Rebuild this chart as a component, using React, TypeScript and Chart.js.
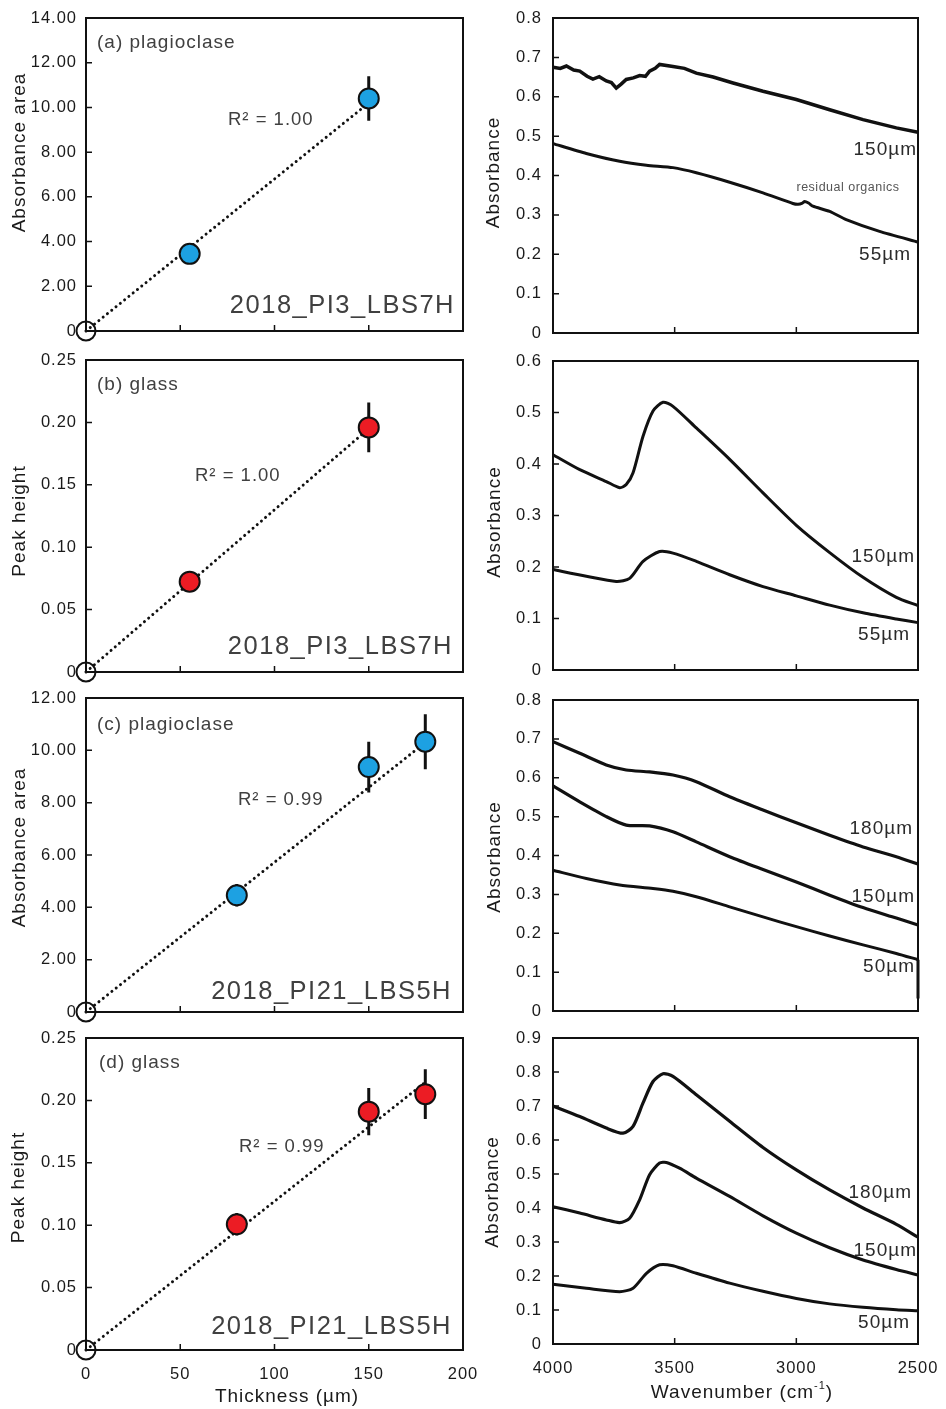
import React, { useEffect, useRef } from 'react';
import { Chart, registerables } from 'chart.js';
Chart.register(...registerables);

const FAMILY = '"Liberation Sans", Arial, Helvetica, sans-serif';
const BLUE = '#1DA1E2';
const RED = '#EC1C24';
const INK = '#111111';

// ---------- left column data (thickness vs absorbance) ----------
const thickTicksStep = 50;
const plagA_thick = [55, 150];
const plagA_area = [3.45, 10.4];
const plagA_err = [0.1, 1.0];
const plagA_fitX = [0, 150];
const plagA_fitY = [0, 10.2];

const glassB_thick = [55, 150];
const glassB_peak = [0.0724, 0.196];
const glassB_err = [0.003, 0.02];
const glassB_fitX = [0, 150];
const glassB_fitY = [0, 0.195];

const plagC_thick = [80, 150, 180];
const plagC_area = [4.46, 9.36, 10.33];
const plagC_err = [0.43, 0.97, 1.05];
const plagC_fitX = [0, 180];
const plagC_fitY = [0, 10.3];

const glassD_thick = [80, 150, 180];
const glassD_peak = [0.1007, 0.191, 0.205];
const glassD_err = [0.009, 0.019, 0.02];
const glassD_fitX = [0, 180];
const glassD_fitY = [0, 0.2145];

const originX = [0];
const originY = [0];

// ---------- right column data (spectra) ----------
const wnA150 = [4000, 3970, 3945, 3915, 3890, 3860, 3836, 3810, 3781, 3760, 3740, 3720, 3699, 3670, 3644, 3620, 3603, 3580, 3562, 3507, 3460, 3411, 3342, 3260, 3137, 3000, 2863, 2726, 2589, 2500];
const absA150 = [0.675, 0.672, 0.678, 0.668, 0.665, 0.652, 0.645, 0.651, 0.640, 0.636, 0.622, 0.632, 0.644, 0.648, 0.654, 0.652, 0.665, 0.672, 0.682, 0.677, 0.672, 0.660, 0.650, 0.635, 0.614, 0.593, 0.567, 0.542, 0.521, 0.510];
const wnA55 = [4000, 3863, 3726, 3616, 3507, 3411, 3274, 3137, 3014, 2993, 2975, 2966, 2950, 2932, 2863, 2795, 2658, 2500];
const absA55 = [0.481, 0.456, 0.436, 0.426, 0.420, 0.407, 0.383, 0.356, 0.329, 0.327, 0.330, 0.334, 0.330, 0.322, 0.309, 0.288, 0.258, 0.231];

const wnB150 = [4000, 3890, 3781, 3726, 3699, 3671, 3630, 3589, 3548, 3507, 3411, 3274, 3137, 3000, 2863, 2726, 2589, 2500];
const absB150 = [0.418, 0.389, 0.366, 0.354, 0.360, 0.383, 0.454, 0.503, 0.520, 0.512, 0.470, 0.409, 0.344, 0.281, 0.228, 0.180, 0.141, 0.125];
const wnB55 = [4000, 3863, 3740, 3685, 3630, 3562, 3507, 3411, 3274, 3137, 3000, 2863, 2726, 2589, 2500];
const absB55 = [0.195, 0.182, 0.172, 0.178, 0.211, 0.230, 0.227, 0.211, 0.185, 0.162, 0.144, 0.126, 0.111, 0.099, 0.092];

const wnC = [4000, 3890, 3781, 3699, 3603, 3507, 3411, 3274, 3137, 3000, 2863, 2726, 2589, 2500];
const absC180 = [0.693, 0.663, 0.633, 0.620, 0.615, 0.607, 0.590, 0.551, 0.517, 0.484, 0.452, 0.422, 0.397, 0.378];
const absC150 = [0.579, 0.538, 0.500, 0.478, 0.476, 0.461, 0.435, 0.397, 0.364, 0.332, 0.298, 0.266, 0.239, 0.221];
const wnC50 = [4000, 3863, 3726, 3589, 3507, 3411, 3274, 3137, 3000, 2863, 2726, 2589, 2500];
const absC50 = [0.362, 0.341, 0.324, 0.315, 0.308, 0.294, 0.268, 0.242, 0.217, 0.193, 0.170, 0.148, 0.132];
const wnC50Tail = [2500, 2500];
const absC50Tail = [0.132, 0.032];

const wnD180 = [4000, 3890, 3781, 3712, 3671, 3630, 3589, 3548, 3507, 3411, 3274, 3137, 3000, 2863, 2726, 2589, 2500];
const absD180 = [0.700, 0.669, 0.635, 0.620, 0.640, 0.709, 0.772, 0.795, 0.787, 0.733, 0.655, 0.578, 0.512, 0.453, 0.400, 0.352, 0.314];
const wnD150 = [4000, 3890, 3781, 3726, 3685, 3644, 3603, 3562, 3534, 3480, 3411, 3274, 3137, 3000, 2863, 2726, 2589, 2500];
const absD150 = [0.404, 0.385, 0.365, 0.357, 0.370, 0.424, 0.498, 0.532, 0.534, 0.517, 0.488, 0.434, 0.377, 0.326, 0.283, 0.247, 0.219, 0.203];
const wnD50 = [4000, 3863, 3726, 3671, 3616, 3562, 3507, 3411, 3274, 3137, 3000, 2863, 2726, 2589, 2500];
const absD50 = [0.176, 0.164, 0.154, 0.164, 0.208, 0.233, 0.230, 0.208, 0.179, 0.155, 0.134, 0.118, 0.108, 0.101, 0.098];

// ---------- helpers ----------
const pts = (xs: number[], ys: number[]) => xs.map((x, i) => ({ x, y: ys[i] }));

type Seg = { t: string; size: number; dy?: number };
type Txt = { segs: Seg[]; x: number; y: number; align?: 'left' | 'center' | 'right'; rot?: boolean; color?: string; sp?: number };
const T = (t: string, x: number, y: number, size: number, o: Partial<Txt> = {}): Txt => ({ segs: [{ t, size }], x, y, ...o });

function markerSets(xs: number[], ys: number[], color: string, fx: number[], fy: number[]) {
  return [
    { data: pts(xs, ys), pointRadius: 10, pointBackgroundColor: color, pointBorderColor: INK, pointBorderWidth: 2, showLine: false, clip: false },
    { data: pts(originX, originY), pointRadius: 9.5, pointBackgroundColor: 'rgba(0,0,0,0)', pointBorderColor: INK, pointBorderWidth: 2, showLine: false, clip: false },
    { data: pts(fx, fy), showLine: true, pointRadius: 0, borderColor: INK, borderWidth: 3, borderDash: [0.01, 5.5], borderCapStyle: 'round', clip: false },
  ];
}

function spec(xs: number[], ys: number[], width = 3, tension = 0.25) {
  return { data: pts(xs, ys), showLine: true, pointRadius: 0, borderColor: INK, borderWidth: width, tension, clip: false };
}

interface PanelSpec {
  key: string;
  canvas: [number, number, number, number];
  area: [number, number, number, number];
  left: boolean;
  showX: boolean;
  yMax: number;
  yStep: number;
  yFmt: (v: number) => string;
  datasets: any[];
  errors?: { xs: number[]; ys: number[]; es: number[] };
  texts: Txt[];
}

const fmt2 = (v: number) => (Math.abs(v) < 1e-9 ? '0' : v.toFixed(2));
const fmt1 = (v: number) => (Math.abs(v) < 1e-9 ? '0' : v.toFixed(1));

const GRAY = '#404040';
const LAB = '#2a2a2a';

const panels: PanelSpec[] = [
  {
    key: 'la', canvas: [0, 0, 490, 345], area: [86, 18, 463, 331], left: true, showX: false, yMax: 14, yStep: 2, yFmt: fmt2,
    datasets: markerSets(plagA_thick, plagA_area, BLUE, plagA_fitX, plagA_fitY),
    errors: { xs: plagA_thick, ys: plagA_area, es: plagA_err },
    texts: [
      T('(a) plagioclase', 97, 43, 19, { color: GRAY }),
      T('R² = 1.00', 228, 120, 18.5, { color: GRAY }),
      T('2018_PI3_LBS7H', 455, 306, 25.5, { color: GRAY, align: 'right', sp: 1.5 }),
      T('Absorbance area', 20, 152.5, 19, { rot: true, align: 'center' }),
    ],
  },
  {
    key: 'lb', canvas: [0, 345, 490, 340], area: [86, 360, 463, 672], left: true, showX: false, yMax: 0.25, yStep: 0.05, yFmt: fmt2,
    datasets: markerSets(glassB_thick, glassB_peak, RED, glassB_fitX, glassB_fitY),
    errors: { xs: glassB_thick, ys: glassB_peak, es: glassB_err },
    texts: [
      T('(b) glass', 97, 385, 19, { color: GRAY }),
      T('R² = 1.00', 195, 476, 18.5, { color: GRAY }),
      T('2018_PI3_LBS7H', 453, 647, 25.5, { color: GRAY, align: 'right', sp: 1.5 }),
      T('Peak height', 20, 521, 19, { rot: true, align: 'center' }),
    ],
  },
  {
    key: 'lc', canvas: [0, 685, 490, 340], area: [86, 698, 463, 1012], left: true, showX: false, yMax: 12, yStep: 2, yFmt: fmt2,
    datasets: markerSets(plagC_thick, plagC_area, BLUE, plagC_fitX, plagC_fitY),
    errors: { xs: plagC_thick, ys: plagC_area, es: plagC_err },
    texts: [
      T('(c) plagioclase', 97, 725, 19, { color: GRAY }),
      T('R² = 0.99', 238, 800, 18.5, { color: GRAY }),
      T('2018_PI21_LBS5H', 452, 992, 25.5, { color: GRAY, align: 'right', sp: 1.5 }),
      T('Absorbance area', 20, 847.5, 19, { rot: true, align: 'center' }),
    ],
  },
  {
    key: 'ld', canvas: [0, 1025, 490, 384], area: [86, 1038, 463, 1350], left: true, showX: true, yMax: 0.25, yStep: 0.05, yFmt: fmt2,
    datasets: markerSets(glassD_thick, glassD_peak, RED, glassD_fitX, glassD_fitY),
    errors: { xs: glassD_thick, ys: glassD_peak, es: glassD_err },
    texts: [
      T('(d) glass', 99, 1063, 19, { color: GRAY }),
      T('R² = 0.99', 239, 1147, 18.5, { color: GRAY }),
      T('2018_PI21_LBS5H', 452, 1327, 25.5, { color: GRAY, align: 'right', sp: 1.5 }),
      T('Peak height', 18.5, 1187.5, 19, { rot: true, align: 'center' }),
      T('Thickness (µm)', 287, 1397, 19, { align: 'center' }),
    ],
  },
  {
    key: 'ra', canvas: [480, 0, 466, 345], area: [553, 18, 918, 333], left: false, showX: false, yMax: 0.8, yStep: 0.1, yFmt: fmt1,
    datasets: [spec(wnA150, absA150, 3.5, 0), spec(wnA55, absA55, 3, 0.2)],
    texts: [
      T('150µm', 917, 150, 19, { align: 'right', color: LAB }),
      T('55µm', 911, 255, 19, { align: 'right', color: LAB }),
      T('residual organics', 848, 188, 12.5, { align: 'center', color: '#555', sp: 0.5 }),
      T('Absorbance', 494, 172.5, 19, { rot: true, align: 'center' }),
    ],
  },
  {
    key: 'rb', canvas: [480, 345, 466, 340], area: [553, 361, 918, 670], left: false, showX: false, yMax: 0.6, yStep: 0.1, yFmt: fmt1,
    datasets: [spec(wnB150, absB150), spec(wnB55, absB55)],
    texts: [
      T('150µm', 915, 557, 19, { align: 'right', color: LAB }),
      T('55µm', 910, 635, 19, { align: 'right', color: LAB }),
      T('Absorbance', 495, 522, 19, { rot: true, align: 'center' }),
    ],
  },
  {
    key: 'rc', canvas: [480, 685, 466, 340], area: [553, 700, 918, 1011], left: false, showX: false, yMax: 0.8, yStep: 0.1, yFmt: fmt1,
    datasets: [spec(wnC, absC180, 3.2), spec(wnC, absC150, 3.2), spec(wnC50, absC50), spec(wnC50Tail, absC50Tail, 3, 0)],
    texts: [
      T('180µm', 913, 829, 19, { align: 'right', color: LAB }),
      T('150µm', 915, 897, 19, { align: 'right', color: LAB }),
      T('50µm', 915, 967, 19, { align: 'right', color: LAB }),
      T('Absorbance', 495, 857, 19, { rot: true, align: 'center' }),
    ],
  },
  {
    key: 'rd', canvas: [480, 1025, 466, 384], area: [553, 1038, 918, 1344], left: false, showX: true, yMax: 0.9, yStep: 0.1, yFmt: fmt1,
    datasets: [spec(wnD180, absD180, 3.2), spec(wnD150, absD150, 3.1), spec(wnD50, absD50)],
    texts: [
      T('180µm', 912, 1193, 19, { align: 'right', color: LAB }),
      T('150µm', 917, 1251, 19, { align: 'right', color: LAB }),
      T('50µm', 910, 1323, 19, { align: 'right', color: LAB }),
      T('Absorbance', 493, 1192, 19, { rot: true, align: 'center' }),
      { segs: [{ t: 'Wavenumber (cm', size: 19 }, { t: '-1', size: 11, dy: -7 }, { t: ')', size: 19 }], x: 742, y: 1393, align: 'center' },
    ],
  },
];

function Panel({ p }: { p: PanelSpec }) {
  const ref = useRef<HTMLCanvasElement>(null);
  const [cx, cy, cw, ch] = p.canvas;
  useEffect(() => {
    const [l, t, r, b] = p.area;
    const yW = l - cx;
    const xH = cy + ch - b;
    const plugin = {
      id: 'deco_' + p.key,
      beforeDraw(chart: any) {
        chart.ctx.letterSpacing = '1px';
      },
      beforeDatasetsDraw(chart: any) {
        const { ctx, chartArea: a, scales } = chart;
        const sx = scales.x;
        const sy = scales.y;
        ctx.save();
        ctx.strokeStyle = INK;
        ctx.lineWidth = 2;
        ctx.strokeRect(a.left, a.top, a.right - a.left, a.bottom - a.top);
        ctx.lineWidth = 1.5;
        ctx.beginPath();
        for (const tk of sx.ticks) {
          if (tk.value <= sx.min + 1e-9 || tk.value >= sx.max - 1e-9) continue;
          const px = sx.getPixelForValue(tk.value);
          ctx.moveTo(px, a.bottom);
          ctx.lineTo(px, a.bottom - 6);
        }
        for (const tk of sy.ticks) {
          if (tk.value <= sy.min + 1e-9 || tk.value >= sy.max - 1e-9) continue;
          const py = sy.getPixelForValue(tk.value);
          ctx.moveTo(a.left, py);
          ctx.lineTo(a.left + 6, py);
        }
        ctx.stroke();
        if (p.errors) {
          ctx.lineWidth = 3;
          ctx.beginPath();
          p.errors.xs.forEach((x, i) => {
            const px = sx.getPixelForValue(x);
            ctx.moveTo(px, sy.getPixelForValue(p.errors!.ys[i] + p.errors!.es[i]));
            ctx.lineTo(px, sy.getPixelForValue(p.errors!.ys[i] - p.errors!.es[i]));
          });
          ctx.stroke();
        }
        ctx.restore();
      },
      afterDraw(chart: any) {
        const ctx = chart.ctx as CanvasRenderingContext2D;
        for (const tx of p.texts) {
          ctx.save();
          (ctx as any).letterSpacing = (tx.sp ?? 1) + 'px';
          ctx.fillStyle = tx.color || '#1a1a1a';
          ctx.textBaseline = 'middle';
          ctx.textAlign = 'left';
          ctx.translate(tx.x - cx, tx.y - cy);
          if (tx.rot) ctx.rotate(-Math.PI / 2);
          let w = 0;
          for (const s of tx.segs) {
            ctx.font = `${s.size}px ${FAMILY}`;
            w += ctx.measureText(s.t).width;
          }
          let cur = tx.align === 'center' ? -w / 2 : tx.align === 'right' ? -w : 0;
          for (const s of tx.segs) {
            ctx.font = `${s.size}px ${FAMILY}`;
            ctx.fillText(s.t, cur, s.dy || 0);
            cur += ctx.measureText(s.t).width;
          }
          ctx.restore();
        }
      },
    };
    const tickFont = { family: FAMILY, size: 16.5 };
    const chart = new Chart(ref.current as HTMLCanvasElement, {
      type: 'scatter',
      data: { datasets: p.datasets },
      options: {
        animation: false,
        responsive: false,
        devicePixelRatio: 1,
        events: [],
        layout: { autoPadding: false, padding: { top: t - cy, right: cx + cw - r, bottom: 0, left: 0 } } as any,
        plugins: { legend: { display: false }, tooltip: { enabled: false } },
        scales: {
          x: {
            type: 'linear',
            position: 'bottom',
            min: p.left ? 0 : 2500,
            max: p.left ? 200 : 4000,
            reverse: !p.left,
            grid: { display: false, drawTicks: false },
            border: { display: false },
            ticks: {
              display: p.showX,
              stepSize: p.left ? thickTicksStep : 500,
              padding: 15,
              color: '#1a1a1a',
              font: tickFont,
              maxRotation: 0,
              autoSkip: false,
              callback: (v: any) => String(v),
            },
            afterFit: (s: any) => {
              s.height = xH;
              s.paddingLeft = 0;
              s.paddingRight = 0;
            },
          },
          y: {
            type: 'linear',
            min: 0,
            max: p.yMax,
            grid: { display: false, drawTicks: false },
            border: { display: false },
            ticks: {
              stepSize: p.yStep,
              padding: p.left ? 9 : 11,
              color: '#1a1a1a',
              font: tickFont,
              autoSkip: false,
              callback: (v: any) => p.yFmt(Number(v)),
            },
            afterFit: (s: any) => {
              s.width = yW;
              s.paddingTop = 0;
              s.paddingBottom = 0;
            },
          },
        },
      } as any,
      plugins: [plugin],
    });
    return () => chart.destroy();
  }, []);
  return (
    <canvas
      ref={ref}
      width={cw}
      height={ch}
      style={{ position: 'absolute', left: cx, top: cy, width: cw, height: ch }}
    />
  );
}

export default function App() {
  return (
    <div style={{ position: 'absolute', left: 0, top: 0, width: 946, height: 1409, background: '#ffffff', overflow: 'hidden' }}>
      {panels.map((p) => (
        <Panel key={p.key} p={p} />
      ))}
    </div>
  );
}
